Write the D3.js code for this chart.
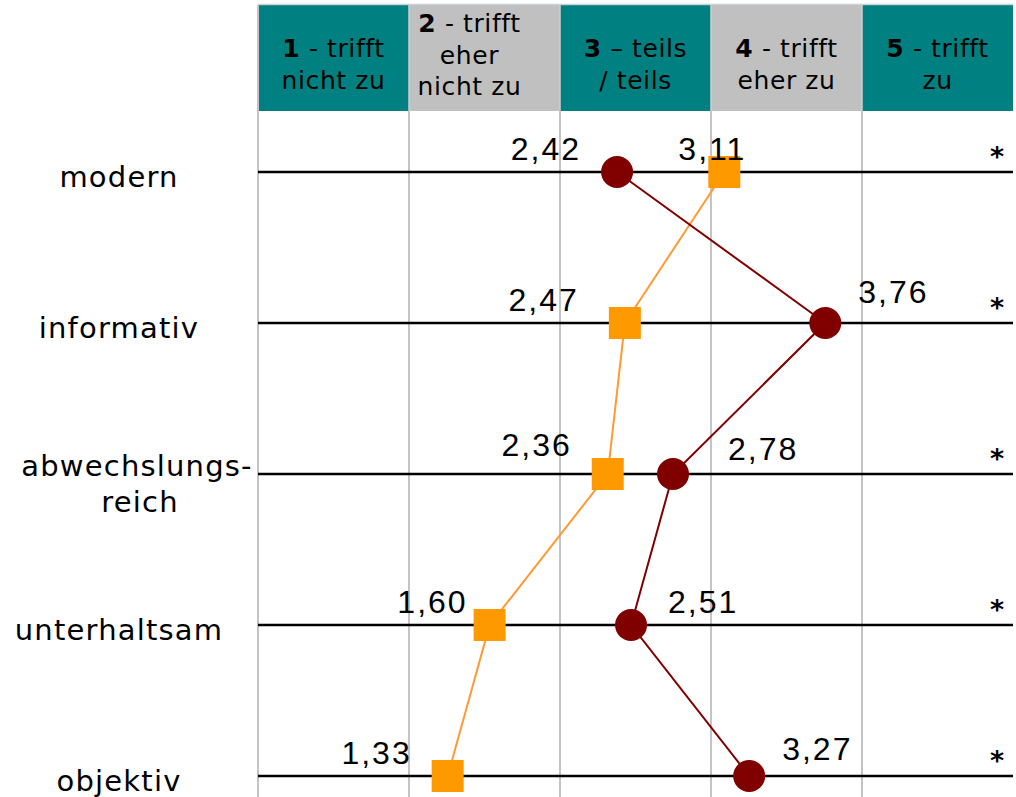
<!DOCTYPE html>
<html>
<head>
<meta charset="utf-8">
<script src="https://cdn.jsdelivr.net/npm/d3@7"></script>
<style>
  html, body { margin: 0; padding: 0; background: #fff; }
  svg { display: block; }
</style>
</head>
<body>
<svg id="chart" width="1016" height="797"></svg>
<script>
// Items (rows) of the semantic differential
const items = ["modern", "informativ", "abwechslungs-\nreich", "unterhaltsam", "objektiv"];

// Scale columns
const scaleNums = ["1", "2", "3", "4", "5"];
const scaleTexts = [
  ["- trifft", "nicht zu"],
  ["- trifft", "eher", "nicht zu"],
  ["– teils", "/ teils"],
  ["- trifft", "eher zu"],
  ["- trifft", "zu"]
];

// Mean ratings per item
const circleValues = [2.42, 3.76, 2.78, 2.51, 3.27];
const squareValues = [3.11, 2.47, 2.36, 1.60, 1.33];

// Significance markers per item
const sigMarks = ["*", "*", "*", "*", "*"];

// Label placement: side relative to the mark and small nudges (px)
const circleLabelSide = ["left", "right", "right", "right", "right"];
const circleLabelNudge = [[0, 0], [0, -8], [22, -2], [4, 0], [0, -4]];
const squareLabelSide = ["above", "left", "left", "left", "left"];
const squareLabelNudge = [[0, 0], [-10, 0], [0, -6], [14, 0], [0, 0]];

const fmt = v => d3.format(".2f")(v).replace(".", ",");

const svg = d3.select("#chart");

const left = 258, right = 1013, headTop = 5, headBottom = 111, bottom = 797;

// value scale
const x = d3.scaleLinear().domain([0, 5]).range([241, 1018]);
// column band for the header
const col = d3.scaleBand().domain(scaleNums).range([left, right]);
// rows
const y = d3.scalePoint().domain(d3.range(items.length)).range([172, 776]);

// header cells
const head = svg.append("g");
head.selectAll("rect")
  .data(scaleNums)
  .join("rect")
  .attr("x", d => col(d))
  .attr("y", headTop)
  .attr("width", col.bandwidth())
  .attr("height", headBottom - headTop)
  .attr("fill", (d, i) => i % 2 === 0 ? "#008080" : "#c0c0c0");

// header borders
head.append("line")
  .attr("x1", left).attr("x2", right)
  .attr("y1", headTop - 0.5).attr("y2", headTop - 0.5)
  .attr("stroke", "#c8d2d2").attr("stroke-width", 1.5);

const headerShift = [0, -15, 0, 0, 0];
scaleNums.forEach((n, i) => {
  const lines = scaleTexts[i];
  const cx = col(n) + col.bandwidth() / 2 + headerShift[i];
  const lh = 31.5;
  const firstBase = lines.length === 3 ? 32 : 57;
  const t = head.append("text")
    .attr("font-family", "'DejaVu Sans', Verdana, sans-serif")
    .attr("font-size", 25)
    .attr("letter-spacing", 0.6)
    .attr("fill", "#000")
    .attr("text-anchor", "middle");
  lines.forEach((ln, j) => {
    const ts = t.append("tspan").attr("x", cx).attr("y", firstBase + j * lh);
    if (j === 0) {
      ts.append("tspan").attr("font-weight", "bold").text(n);
      ts.append("tspan").text(" " + ln);
    } else {
      ts.text(ln);
    }
  });
});

// vertical grid lines
const vLines = scaleNums.map(d => col(d));
svg.append("g").selectAll("line")
  .data(vLines)
  .join("line")
  .attr("x1", d => d).attr("x2", d => d)
  .attr("y1", (d, i) => i === 0 ? headTop : headBottom)
  .attr("y2", bottom)
  .attr("stroke", "#c4c4c4")
  .attr("stroke-width", 2);

// header column separators
head.selectAll("line.sep")
  .data(vLines.slice(1))
  .join("line")
  .attr("class", "sep")
  .attr("x1", d => d).attr("x2", d => d)
  .attr("y1", headTop).attr("y2", headBottom)
  .attr("stroke", "#c8d2d2").attr("stroke-width", 1.5);

// horizontal item lines
svg.append("g").selectAll("line")
  .data(items)
  .join("line")
  .attr("x1", left).attr("x2", right)
  .attr("y1", (d, i) => y(i)).attr("y2", (d, i) => y(i))
  .attr("stroke", "#000")
  .attr("stroke-width", 2.5);

// item labels
const labG = svg.append("g")
  .attr("font-family", "'DejaVu Sans', Verdana, sans-serif")
  .attr("font-size", 29)
  .attr("letter-spacing", 1.2)
  .attr("fill", "#000")
  .attr("text-anchor", "middle");
items.forEach((it, i) => {
  const parts = it.split("\n");
  const t = labG.append("text");
  if (parts.length === 1) {
    t.append("tspan").attr("x", 119).attr("y", y(i) + 15).text(parts[0]);
  } else {
    t.append("tspan").attr("x", 137).attr("y", y(i) + 2).text(parts[0]);
    t.append("tspan").attr("x", 140).attr("y", y(i) + 38).text(parts[1]);
  }
});

// significance markers
svg.append("g").selectAll("text")
  .data(sigMarks)
  .join("text")
  .attr("x", 997)
  .attr("y", (d, i) => y(i) - 6)
  .attr("text-anchor", "middle")
  .attr("font-family", "'DejaVu Sans', sans-serif")
  .attr("font-weight", "bold")
  .attr("font-size", 27)
  .text(d => d);

// profile lines
const line = d3.line().x(d => x(d[0])).y(d => y(d[1]));
svg.append("path")
  .datum(squareValues.map((v, i) => [v, i]))
  .attr("d", line)
  .attr("fill", "none")
  .attr("stroke", "#ff9933")
  .attr("stroke-width", 2);
svg.append("path")
  .datum(circleValues.map((v, i) => [v, i]))
  .attr("d", line)
  .attr("fill", "none")
  .attr("stroke", "#800000")
  .attr("stroke-width", 2);

// markers
const sq = 32;
svg.append("g").selectAll("rect")
  .data(squareValues)
  .join("rect")
  .attr("x", d => x(d) - sq / 2)
  .attr("y", (d, i) => y(i) - sq / 2)
  .attr("width", sq).attr("height", sq)
  .attr("fill", "#ff9900");
svg.append("g").selectAll("circle")
  .data(circleValues)
  .join("circle")
  .attr("cx", d => x(d))
  .attr("cy", (d, i) => y(i))
  .attr("r", 16)
  .attr("fill", "#800000");

// value labels
const valFont = { family: "'Liberation Sans', Arial, sans-serif", size: 32, ls: 2 };
function valueLabels(values, side, nudge, halfW) {
  svg.append("g").selectAll("text")
    .data(values)
    .join("text")
    .attr("font-family", valFont.family)
    .attr("font-size", valFont.size)
    .attr("letter-spacing", valFont.ls)
    .attr("fill", "#000")
    .attr("text-anchor", (d, i) => side[i] === "left" ? "end" : side[i] === "right" ? "start" : "middle")
    .attr("x", (d, i) => {
      const base = x(d);
      const off = side[i] === "left" ? -halfW - 20 : side[i] === "right" ? halfW + 17 : -12;
      return base + off + nudge[i][0];
    })
    .attr("y", (d, i) => y(i) - 12 + nudge[i][1])
    .text(d => fmt(d));
}
valueLabels(circleValues, circleLabelSide, circleLabelNudge, 16);
valueLabels(squareValues, squareLabelSide, squareLabelNudge, 16);
</script>
</body>
</html>
